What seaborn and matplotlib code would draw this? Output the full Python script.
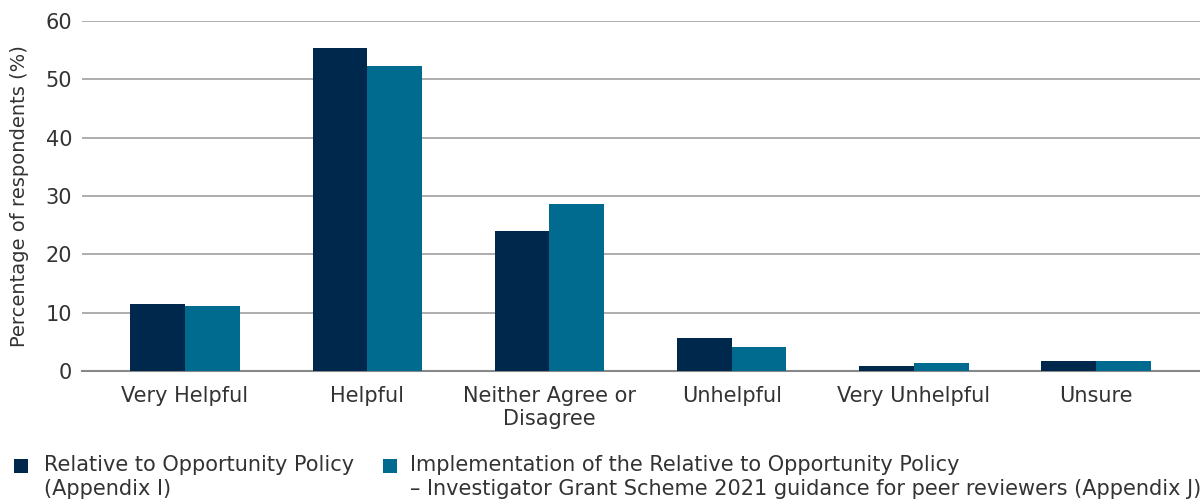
import numpy as np
import pandas as pd
import matplotlib.pyplot as plt
import seaborn as sns
from matplotlib.patches import Rectangle

# 数据
categories = ['Very Helpful', 'Helpful', 'Neither Agree or\nDisagree', 'Unhelpful', 'Very Unhelpful', 'Unsure']
policy_vals = [11.5, 55.4, 24.0, 5.7, 0.9, 1.8]
guidance_vals = [11.1, 52.3, 28.6, 4.1, 1.4, 1.8]
series_names = ['Relative to Opportunity Policy\n(Appendix I)',
                'Implementation of the Relative to Opportunity Policy\n'
                '\u2013 Investigator Grant Scheme 2021 guidance for peer reviewers (Appendix J)']
colors = ['#00284C', '#006B8F']

df = pd.DataFrame({
    'category': categories * 2,
    'series': [series_names[0]] * len(categories) + [series_names[1]] * len(categories),
    'value': policy_vals + guidance_vals,
})

sns.set_style("white")
plt.rcParams['font.family'] = ['DejaVu Sans']
text_color = '#333333'
fs = 15

W, H = 1200, 499
fig = plt.figure(figsize=(W / 100, H / 100), dpi=100)
ax = fig.add_axes([82 / W, 1 - 371 / H, 1 - 82 / W, 350 / H])

sns.barplot(data=df, x='category', y='value', hue='series', order=categories,
            hue_order=series_names, palette=colors, width=0.6, saturation=1,
            linewidth=0, ax=ax, legend=False, zorder=3)

ax.set_xlim(-0.565, 5.57)
ax.set_ylim(0, 60)
ax.set_yticks(np.arange(0, 61, 10))
ax.yaxis.grid(True, color='#a0a0a0', linewidth=1.2, zorder=0)
ax.set_axisbelow(True)
for s in ['top', 'right', 'left']:
    ax.spines[s].set_visible(False)
ax.spines['bottom'].set_color('#888888')
ax.spines['bottom'].set_linewidth(1.5)
ax.tick_params(axis='both', length=0, labelsize=fs, colors=text_color)
ax.tick_params(axis='x', pad=11)
ax.tick_params(axis='y', pad=7)
ax.set_xlabel('')
ax.set_ylabel('Percentage of respondents (%)', fontsize=14, color=text_color, labelpad=12)

# 图例（手动放置，方块与第一行对齐）
legend_items = [(14, 44), (383, 410)]
for (sq_x, tx_x), name, c in zip(legend_items, series_names, colors):
    fig.patches.append(Rectangle((sq_x / W, 1 - 473 / H), 14 / W, 14 / H,
                                 transform=fig.transFigure, facecolor=c,
                                 edgecolor='none', figure=fig))
    fig.text(tx_x / W, 1 - 455 / H, name, fontsize=fs, color=text_color,
             va='top', ha='left', linespacing=1.25)

plt.savefig('out.png', dpi=100)
plt.close()
